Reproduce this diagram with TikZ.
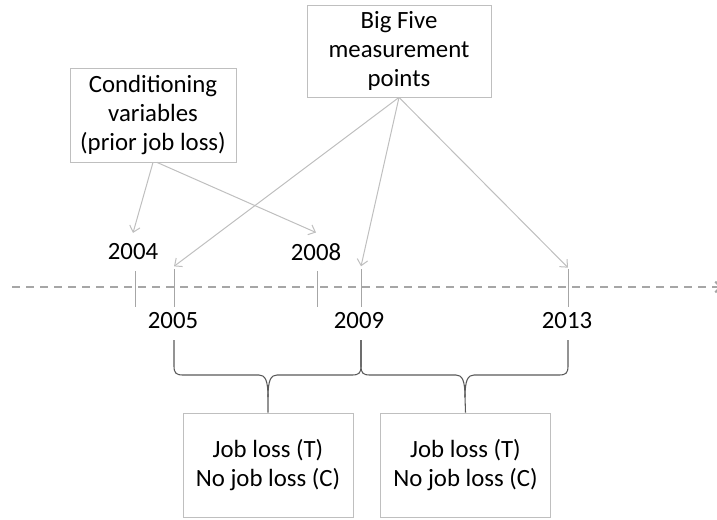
\documentclass[tikz,border=0pt]{standalone}
\usepackage{fontspec}
\setmainfont{Carlito}
\usetikzlibrary{arrows.meta}

\definecolor{boxgray}{HTML}{BFBFBF}
\definecolor{linegray}{HTML}{A6A6A6}
\definecolor{bracegray}{HTML}{595959}

\tikzset{
  infobox/.style={draw=boxgray, line width=0.6pt, align=center, inner sep=0pt},
  yearlabel/.style={inner sep=1pt},
  pointer/.style={draw=boxgray, line width=0.75pt, -{Straight Barb[length=4.5pt,width=8pt]}},
  tick/.style={draw=linegray, line width=0.75pt},
  bracepath/.style={draw=bracegray, line width=0.8pt},
}

\begin{document}
\begin{tikzpicture}[x=0.75pt, y=-0.75pt, font=\fontsize{18.6}{22}\selectfont]
\useasboundingbox (0,0) rectangle (717,519);

% boxes
\node[infobox, minimum width=124.5pt, minimum height=70.5pt] (cond) at (153,115)
  {Conditioning\\variables\\(prior job loss)};
\node[infobox, minimum width=138pt, minimum height=69pt] (bigfive) at (399,51)
  {Big Five\\measurement\\points};
\node[infobox, minimum width=127.5pt, minimum height=78pt] (grp1) at (268,465)
  {Job loss (T)\\No job loss (C)};
\node[infobox, minimum width=128pt, minimum height=78pt] (grp2) at (465.5,465)
  {Job loss (T)\\No job loss (C)};

% timeline
\coordinate (tl0) at (12,287);
\coordinate (tl1) at (722,287);
\draw[draw=linegray, line width=1.5pt, dash pattern=on 6pt off 4.5pt,
  -{Straight Barb[length=4pt,width=8pt]}] (tl0) -- (tl1);

% ticks
\coordinate (k2004) at (135,271); \coordinate (b2004) at (135,307);
\coordinate (k2005) at (174,269); \coordinate (b2005) at (174,307);
\coordinate (k2008) at (317,271); \coordinate (b2008) at (317,307);
\coordinate (k2009) at (361,269); \coordinate (b2009) at (361,307);
\coordinate (k2013) at (568,269); \coordinate (b2013) at (568,307);
\draw[tick] (k2004) -- (b2004);
\draw[tick] (k2005) -- (b2005);
\draw[tick] (k2008) -- (b2008);
\draw[tick] (k2009) -- (b2009);
\draw[tick] (k2013) -- (b2013);

% years
\node[yearlabel] (y2004) at (133,252) {2004};
\node[yearlabel] (y2008) at (316,252) {2008};
\node[yearlabel] (y2005) at (173,321) {2005};
\node[yearlabel] (y2009) at (359,321) {2009};
\node[yearlabel] (y2013) at (567,321) {2013};

% arrows
\draw[pointer] (cond.south) -- ([yshift=7pt]y2004.north);
\draw[pointer] ([xshift=3pt]cond.south) -- ([yshift=7pt]y2008.north);
\draw[pointer] (bigfive.south) -- ([yshift=2pt]k2005);
\draw[pointer] (bigfive.south) -- ([yshift=2pt]k2009);
\draw[pointer] (bigfive.south) -- ([yshift=1pt]k2013);

% braces
\draw[bracepath] (174,340) -- (174,366) .. controls (174,373) and (176,375) .. (183,375)
  -- (259,375) .. controls (265,375) and (268,380) .. (268,397) -- (grp1.north);
\draw[bracepath] (268,397) .. controls (268,380) and (271,375) .. (277,375)
  -- (352,375) .. controls (359,375) and (361,373) .. (361,366) -- (361,340);
\draw[bracepath] (361,340) -- (361,366) .. controls (361,373) and (363,375) .. (370,375)
  -- (456,375) .. controls (462,375) and (465,380) .. (465,397) -- (grp2.north);
\draw[bracepath] (465,397) .. controls (465,380) and (468,375) .. (474,375)
  -- (559,375) .. controls (566,375) and (568,373) .. (568,366) -- (568,340);
\end{tikzpicture}
\end{document}
